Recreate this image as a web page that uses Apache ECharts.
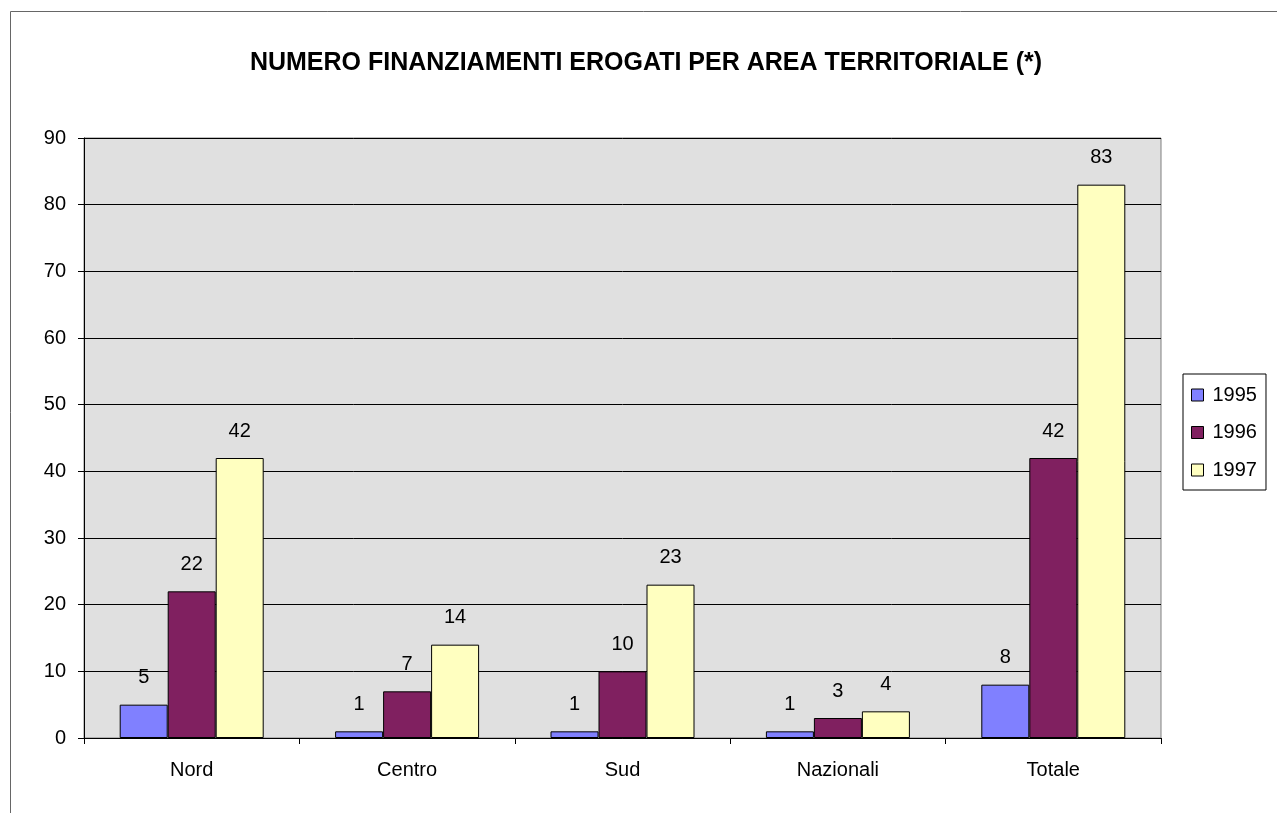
<!DOCTYPE html>
<html><head><meta charset="utf-8">
<script src="https://cdn.jsdelivr.net/npm/echarts@6/dist/echarts.min.js"></script>
<style>html,body{margin:0;padding:0;background:#fff}#c{width:1278px;height:813px}</style>
</head><body><div id="c"></div>
<script>
const categories = ['Nord', 'Centro', 'Sud', 'Nazionali', 'Totale'];
const seriesNames = ['1995', '1996', '1997'];
const v1995 = [5, 1, 1, 1, 8];
const v1996 = [22, 7, 10, 3, 42];
const v1997 = [42, 14, 23, 4, 83];
const colors = ['#8080FF', '#802060', '#FFFFC0'];
const values = [v1995, v1996, v1997];
const FONT = 'Liberation Sans, Arial, sans-serif';

const chart = echarts.init(document.getElementById('c'), null, {renderer: 'canvas'});
chart.setOption({
  animation: false,
  backgroundColor: '#fff',
  title: {
    text: 'NUMERO FINANZIAMENTI EROGATI PER AREA TERRITORIALE (*)',
    left: 641, top: 44, textAlign: 'center',
    textStyle: {fontFamily: FONT, fontSize: 25, fontWeight: 'bold', color: '#000', lineHeight: 28}
  },
  graphic: [
    {type: 'polyline', shape: {points: [[10.5, 813], [10.5, 11.5], [1277, 11.5]]},
     style: {stroke: '#666', lineWidth: 1, fill: null}, z: 100}
  ],
  legend: {
    orient: 'vertical', left: 1183, top: 374, width: 84,
    padding: [11, 9, 10, 8],
    borderColor: '#000', borderWidth: 1, backgroundColor: '#fff',
    icon: 'rect',
    itemWidth: 12, itemHeight: 12, itemGap: 17.5,
    textStyle: {fontFamily: FONT, fontSize: 20, color: '#000', lineHeight: 20, padding: [0, 0, 0, 4]},
    data: seriesNames.map(n => ({name: n, itemStyle: {borderColor: '#000', borderWidth: 1}}))
  },
  grid: {left: 84, right: 117, top: 138, bottom: 75, show: true,
         backgroundColor: '#E0E0E0', borderColor: '#808080', borderWidth: 1},
  xAxis: {
    type: 'category', data: categories,
    axisLine: {lineStyle: {color: '#000', width: 1}},
    axisTick: {show: true, length: 6, lineStyle: {color: '#000'}, alignWithLabel: false},
    axisLabel: {fontFamily: FONT, fontSize: 20, color: '#000', margin: 22},
    splitLine: {show: false}
  },
  yAxis: {
    type: 'value', min: 0, max: 90, interval: 10,
    axisLine: {show: true, lineStyle: {color: '#000', width: 1}},
    axisTick: {show: true, length: 6, lineStyle: {color: '#000'}},
    axisLabel: {fontFamily: FONT, fontSize: 20, color: '#000', margin: 18},
    splitLine: {show: true, lineStyle: {color: '#000', width: 1}}
  },
  series: seriesNames.map((n, i) => ({
    name: n, type: 'bar', data: values[i], barWidth: 48, barGap: '0%',
    itemStyle: {color: colors[i], borderColor: '#000', borderWidth: 1},
    label: {show: true, position: 'top', distance: 17, fontFamily: FONT, fontSize: 20, color: '#000'}
  }))
});
</script></body></html>
